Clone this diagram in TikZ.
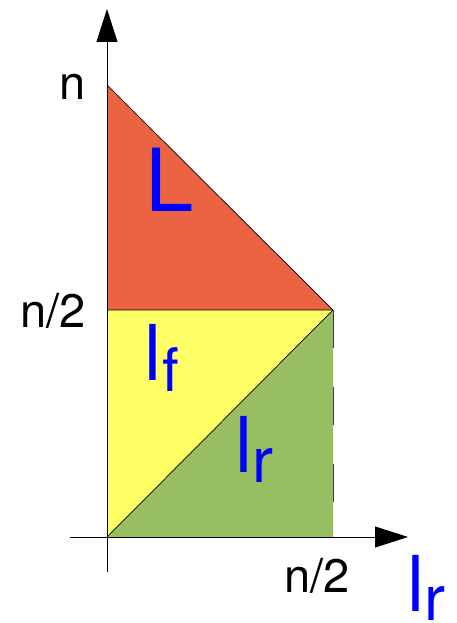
\documentclass[tikz,border=0pt]{standalone}
\usepackage{fontspec}
\setmainfont{TeX Gyre Heros}
\usetikzlibrary{arrows.meta}
\definecolor{regionL}{RGB}{235,99,66}
\definecolor{regionF}{RGB}{255,255,102}
\definecolor{regionR}{RGB}{151,190,96}

\begin{document}
\begin{tikzpicture}[
  x=1pt,y=-1pt,
  axis/.style={line width=0.9pt,-{Triangle[length=33pt,width=21pt]}},
  edge/.style={line width=0.7pt,black},
  tick/.style={inner sep=0pt,anchor=base west,font=\fontsize{47}{47}\selectfont},
  lab/.style={inner sep=0pt,anchor=base west,text=blue},
  big/.style={lab,font=\fontsize{87}{87}\selectfont},
  mid/.style={lab,font=\fontsize{77}{77}\selectfont}
]
\useasboundingbox (0,0) rectangle (456,623);
\coordinate (o) at (107,537);
\coordinate (top) at (107,85);
\coordinate (half) at (107,310);
\coordinate (corner) at (333,310);
\coordinate (foot) at (333,537);
% regions
\fill[regionL] (top)--(corner)--(half)--cycle;
\fill[regionF] (half)--(corner)--(o)--cycle;
\fill[regionR] (o)--(corner)--(foot)--cycle;
\draw[edge] (top)--(corner)--(half);
\draw[edge] (o)--(corner);
\draw[line width=1pt,gray!45!black,dash pattern=on 38pt off 39pt] (corner)--(foot);
% axes
\draw[axis] (107,572)--(107,9);
\draw[axis] (70,537)--(408,537);
% tick labels
\node[tick] (n) at (59,100) {n};
\node[tick] (nhalf) at (20,327) {n/2};
\node[tick] (nhalfx) at (284,592) {n/2};
% region labels
\node[big] (L) at (145,211) {L};
\node[mid] (lf) at (144,380) {l\hspace{1pt}\raisebox{-11pt}{\fontsize{60}{60}\selectfont f}};
\node[mid] (lr) at (235,472) {l\raisebox{-10pt}{\fontsize{63}{63}\selectfont r}};
\node[mid] (lrx) at (407,611) {l\raisebox{-9pt}{\fontsize{63}{63}\selectfont r}};
\end{tikzpicture}
\end{document}
